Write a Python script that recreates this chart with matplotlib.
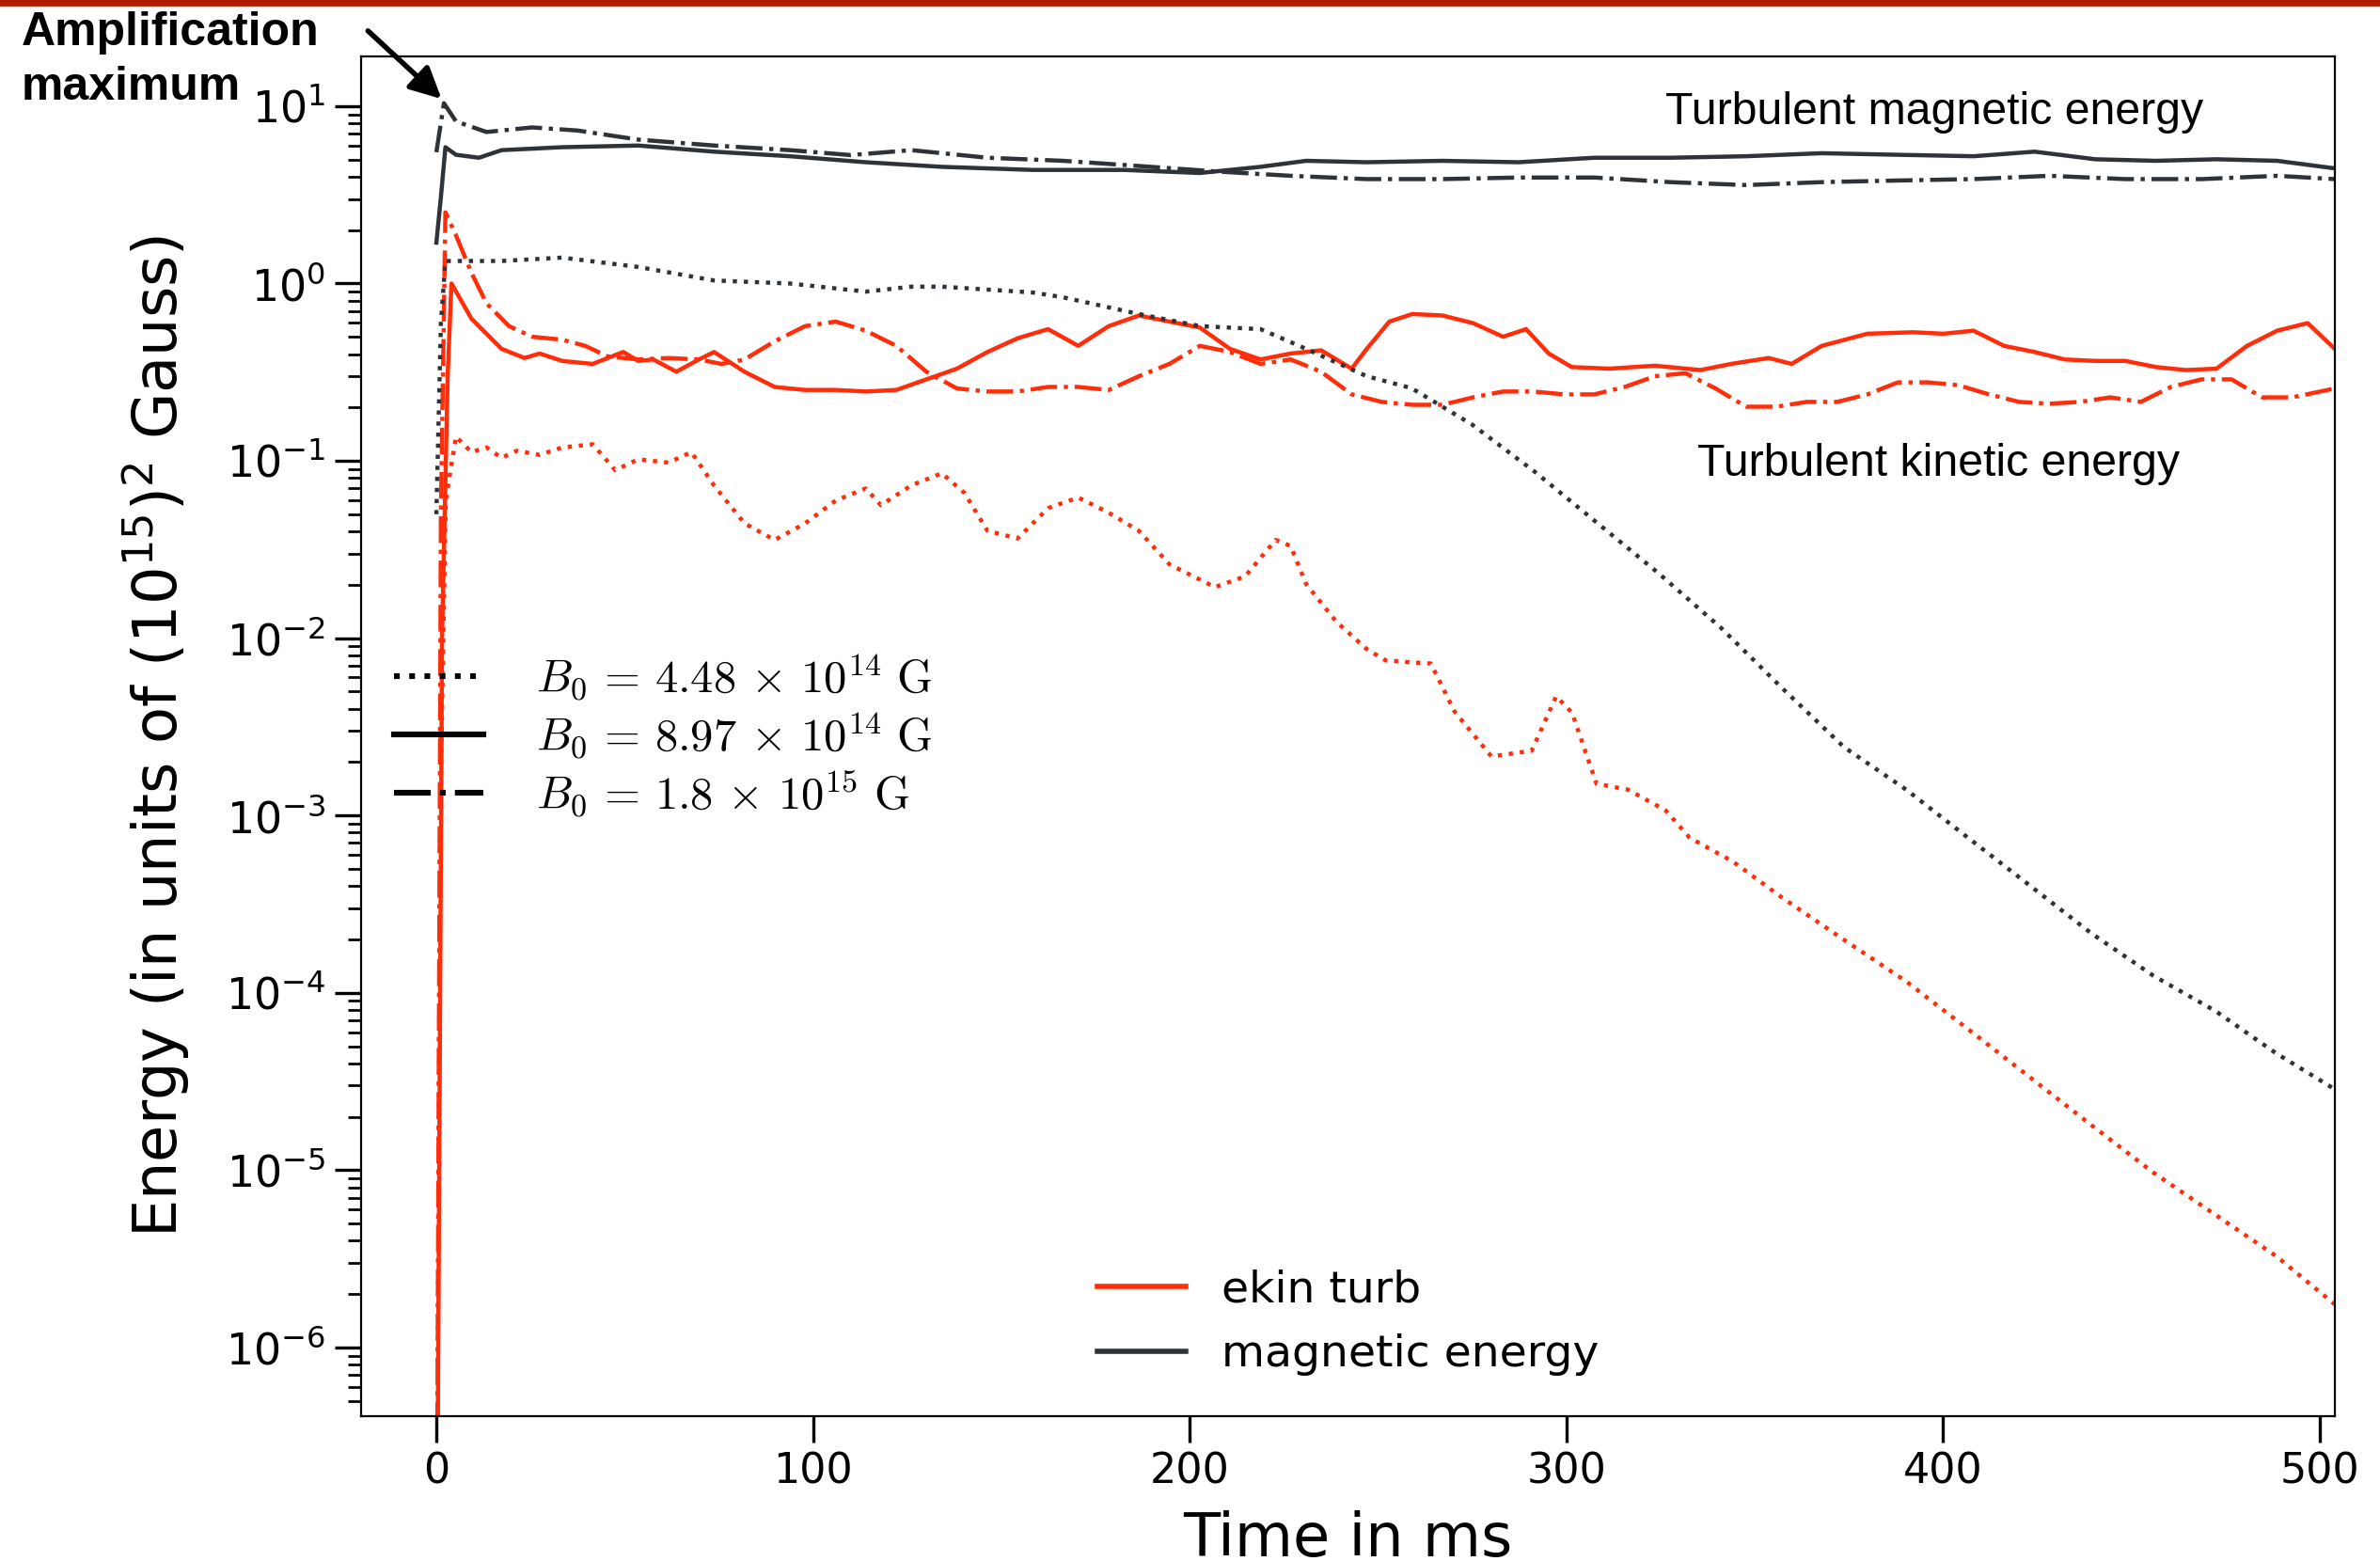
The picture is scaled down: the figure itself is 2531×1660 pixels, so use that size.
import matplotlib.pyplot as plt
from matplotlib.lines import Line2D
from matplotlib.patches import Rectangle
import numpy as np

# ---- data (time in ms, energy in (1e15 G)^2) ----
t_mag_dot = [0, 1.2, 2.4, 5.2, 17.3, 33.4, 53.6, 73.7, 93.9, 114.0, 126.1, 134.2, 158.3, 166.4,
             186.5, 202.7, 218.8, 230.9, 247.0, 258.9, 275.0, 291.6, 308.0, 324.5, 341.0, 357.2,
             373.7, 390.2, 406.6, 422.9, 439.3, 455.8, 472.3, 488.5, 504]
e_mag_dot = [0.05, 0.6, 1.34, 1.34, 1.34, 1.40, 1.24, 1.04, 1.0, 0.90, 0.96, 0.96, 0.89, 0.836,
             0.673, 0.575, 0.553, 0.428, 0.30, 0.257, 0.16, 0.0868, 0.045, 0.0232, 0.01146,
             0.00525, 0.00243, 0.0014, 7.5e-4, 4.05e-4, 2.17e-4, 1.25e-4, 7.9e-5, 4.55e-5, 2.86e-5]

t_mag_sol = [0, 1.2, 2.4, 5.2, 11.3, 17.3, 33.4, 53.6, 73.7, 93.9, 114.0, 134.2, 158.3, 182.5,
             202.7, 218.8, 230.9, 247.0, 267.1, 287.3, 307.4, 327.6, 347.7, 367.8, 388.0, 408.1,
             424.3, 440.4, 456.5, 472.6, 488.7, 504]
e_mag_sol = [1.70, 3.07, 5.87, 5.32, 5.12, 5.65, 5.87, 6.0, 5.54, 5.22, 4.83, 4.55, 4.37, 4.37,
             4.2, 4.55, 4.92, 4.83, 4.92, 4.83, 5.12, 5.12, 5.22, 5.43, 5.32, 5.22,
             5.54, 5.02, 4.92, 5.02, 4.92, 4.46]

t_mag_dd = [0, 2.0, 5.2, 13.3, 25.4, 37.5, 53.6, 73.7, 93.9, 110.0, 126.1, 146.3, 166.4, 186.5,
            206.7, 226.8, 247.0, 267.1, 287.3, 307.4, 327.6, 347.7, 367.8, 388.0, 408.1, 428.3,
            448.4, 468.6, 488.7, 504]
e_mag_dd = [5.5, 10.4, 8.21, 7.15, 7.59, 7.29, 6.48, 6.0, 5.65, 5.3, 5.65, 5.12, 4.92, 4.6,
            4.29, 4.05, 3.88, 3.88, 3.96, 3.96, 3.73, 3.59, 3.73, 3.81, 3.88, 4.05,
            3.88, 3.88, 4.05, 3.88]

t_kin_dot = [0, 1.0, 2.5, 5.2, 9.3, 13.3, 17.3, 21.4, 27.4, 33.4, 41.5, 47.5, 53.6, 61.6, 67.7,
             73.7, 81.8, 89.8, 97.9, 106.0, 114.0, 118.0, 126.1, 134.2, 140.2, 146.3, 154.3,
             162.4, 170.4, 178.5, 186.5, 194.6, 206.7, 214.7, 222.8, 226.8, 230.9, 238.9, 247.0,
             252.0, 258.9, 264.0, 270.3, 280.1, 290.8, 297.3, 301.5, 308.0, 316.3, 326.3, 332.7,
             344.2, 357.2, 373.7, 390.2, 406.6, 422.9, 439.3, 455.8, 472.3, 488.5, 504]
e_kin_dot = [1e-8, 1e-3, 0.06, 0.137, 0.112, 0.119, 0.104, 0.114, 0.108, 0.119, 0.124, 0.0886,
             0.102, 0.0977, 0.112, 0.0727, 0.0444, 0.0358, 0.0444, 0.0597, 0.0699, 0.0562, 0.0727,
             0.0851, 0.0659, 0.0403, 0.0365, 0.0541, 0.0621, 0.0510, 0.0403, 0.0261, 0.0194,
             0.0223, 0.0358, 0.0331, 0.0202, 0.0124, 0.00867, 0.0075, 0.0073, 0.0072, 0.00386,
             0.00215, 0.00232, 0.0047, 0.0038, 0.00151, 0.0014, 0.00107, 7.5e-4, 5.5e-4, 3.45e-4,
             1.99e-4, 1.16e-4, 6.25e-5, 3.36e-5, 1.8e-5, 9.7e-6, 5.6e-6, 3.27e-6, 1.75e-6]

t_kin_sol = [0, 1.5, 3.0, 4.0, 9.3, 17.3, 23.4, 27.4, 33.4, 41.5, 49.6, 53.6, 57.6, 63.7, 69.7,
             73.7, 81.8, 89.8, 97.9, 106.0, 114.0, 122.1, 130.1, 138.2, 146.3, 154.3, 162.4,
             170.4, 178.5, 186.5, 194.6, 202.7, 210.7, 218.8, 226.8, 234.9, 243.0, 247.0, 253.0,
             259.1, 267.1, 275.2, 283.2, 289.3, 295.3, 301.4, 311.4, 323.5, 335.6, 343.7, 353.7,
             359.8, 367.8, 379.9, 392.0, 400.1, 408.1, 416.2, 424.3, 432.3, 440.4, 448.4, 456.5,
             464.5, 472.6, 480.7, 488.7, 496.8, 504]
e_kin_sol = [1e-8, 1e-2, 0.3, 1.0, 0.634, 0.428, 0.38, 0.403, 0.366, 0.352, 0.411, 0.366, 0.373,
             0.318, 0.373, 0.411, 0.318, 0.261, 0.251, 0.251, 0.246, 0.251, 0.288, 0.331, 0.411,
             0.491, 0.553, 0.445, 0.575, 0.66, 0.61, 0.564, 0.428, 0.373, 0.403, 0.42, 0.331,
             0.428, 0.61, 0.673, 0.66, 0.598, 0.501, 0.553, 0.403, 0.338, 0.331, 0.344, 0.325,
             0.352, 0.380, 0.352, 0.445, 0.521, 0.531, 0.521, 0.542, 0.445, 0.411, 0.373, 0.366,
             0.366, 0.338, 0.325, 0.331, 0.445, 0.542, 0.598, 0.428]

t_kin_dd = [0, 1.2, 2.4, 5.2, 9.3, 13.3, 19.3, 25.4, 33.4, 39.5, 45.5, 53.6, 61.6, 69.7, 75.7,
            81.8, 89.8, 97.9, 106.0, 114.0, 122.1, 130.1, 138.2, 146.3, 154.3, 162.4, 170.4,
            178.5, 186.5, 194.6, 202.7, 210.7, 218.8, 226.8, 234.9, 243.0, 251.0, 259.1, 267.1,
            275.2, 283.2, 291.3, 299.4, 307.4, 315.5, 323.5, 331.6, 339.6, 347.7, 355.8, 363.8,
            371.9, 379.9, 388.0, 396.0, 404.1, 412.2, 420.2, 428.3, 436.3, 444.4, 452.5, 460.5,
            468.6, 476.6, 484.7, 492.7, 504]
e_kin_dd = [1e-8, 0.05, 2.52, 1.87, 1.15, 0.773, 0.575, 0.501, 0.482, 0.445, 0.388, 0.373, 0.380,
            0.373, 0.352, 0.373, 0.472, 0.575, 0.61, 0.542, 0.445, 0.318, 0.256, 0.246, 0.246,
            0.261, 0.261, 0.251, 0.30, 0.352, 0.445, 0.411, 0.352, 0.373, 0.318, 0.237, 0.215,
            0.207, 0.207, 0.228, 0.246, 0.246, 0.237, 0.237, 0.261, 0.30, 0.312, 0.256, 0.202,
            0.202, 0.215, 0.215, 0.237, 0.277, 0.277, 0.267, 0.237, 0.215, 0.21, 0.215, 0.228,
            0.215, 0.261, 0.288, 0.288, 0.228, 0.228, 0.256]

b0_labels = [r'$B_0\,=\,4.48\,\times\,10^{14}\ \mathrm{G}$',
             r'$B_0\,=\,8.97\,\times\,10^{14}\ \mathrm{G}$',
             r'$B_0\,=\,1.8\,\times\,10^{15}\ \mathrm{G}$']

red = '#ff2d0a'
dark = '#2e3338'
lw = 1.6

plt.rcParams['mathtext.fontset'] = 'cm'

fig = plt.figure(figsize=(12.655, 8.3), dpi=200)
ax = fig.add_axes([0.1517, 0.0928, 0.8293, 0.8711])

ax.plot(t_kin_dot, e_kin_dot, color=red, ls=':', lw=lw)
ax.plot(t_kin_sol, e_kin_sol, color=red, ls='-', lw=lw, label='ekin turb')
ax.plot(t_kin_dd, e_kin_dd, color=red, ls='-.', lw=lw)
ax.plot(t_mag_dot, e_mag_dot, color=dark, ls=':', lw=lw)
ax.plot(t_mag_sol, e_mag_sol, color=dark, ls='-', lw=lw, label='magnetic energy')
ax.plot(t_mag_dd, e_mag_dd, color=dark, ls='-.', lw=lw)

ax.set_yscale('log')
ax.set_xlim(-20, 504)
ax.set_ylim(4.1e-7, 19.1)
ax.set_xticks([0, 100, 200, 300, 400, 500])
ax.tick_params(axis='both', which='major', labelsize=16, length=10, width=1.2)
ax.tick_params(axis='y', which='minor', length=5, width=1)
# tick labels and axis labels use the default DejaVu style
for lab in ax.get_yticklabels():
    lab.set_fontsize(16.5)
ax.set_xlabel('Time in ms', fontsize=23, labelpad=7)
ax.set_ylabel('Energy (in units of (10$^{15}$)$^2$ Gauss)', fontsize=23, labelpad=13)
ax.yaxis.label.set_math_fontfamily('dejavusans')
ax.xaxis.label.set_math_fontfamily('dejavusans')

leg2 = ax.legend(loc='lower center', frameon=False, fontsize=17)
for ln in leg2.get_lines():
    ln.set_linewidth(2.0)

proxies = [Line2D([], [], color='black', ls=s, lw=2.2) for s in [':', '-', '-.']]
leg1 = ax.legend(proxies, b0_labels, loc='upper left', bbox_to_anchor=(-0.004, 0.592),
                 frameon=False, prop={'family': 'serif', 'size': 17.5},
                 handlelength=1.95, handletextpad=1.15, labelspacing=0.17)
ax.add_artist(leg2)

ax.text(0.797, 0.959, 'Turbulent magnetic energy', transform=ax.transAxes, ha='center',
        va='center', fontsize=17.4, family='Liberation Sans')
ax.text(0.799, 0.700, 'Turbulent kinetic energy', transform=ax.transAxes, ha='center',
        va='center', fontsize=17.4, family='Liberation Sans')

fig.text(0.009, 0.993, 'Amplification\nmaximum', ha='left', va='top', fontsize=18,
         fontweight='bold', family='Liberation Sans', linespacing=1.35)
ax.annotate('', xy=(2.4, 10.5), xytext=(0.153, 0.9825), textcoords='figure fraction',
            arrowprops=dict(arrowstyle='-|>', color='black', lw=2, mutation_scale=25),
            annotation_clip=False)

fig.add_artist(Rectangle((0, 0.997), 1, 0.003, transform=fig.transFigure,
                         color='#b31b00', zorder=10))

fig.savefig('out.png', dpi=200)
